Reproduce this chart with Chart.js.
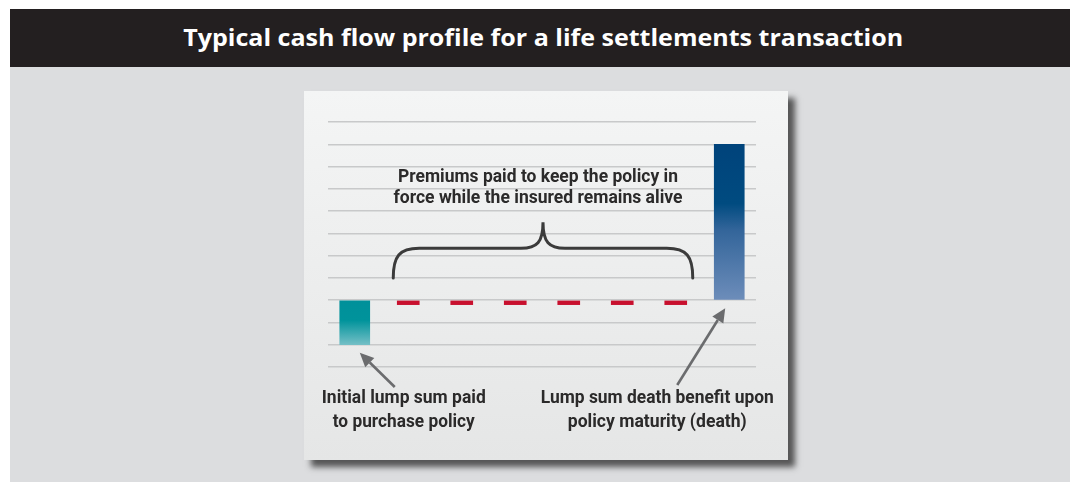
<!DOCTYPE html>
<html>
<head>
<meta charset="utf-8">
<script src="https://cdn.jsdelivr.net/npm/chart.js@4"></script>
<style>
  html, body { margin: 0; padding: 0; background: #ffffff; width: 1070px; height: 482px; overflow: hidden; }
  #titlebar { position: absolute; left: 10px; top: 9px; width: 1060px; height: 58px; background: #231f20; }
  #title { position: absolute; left: 0; top: 0; width: 1060px; height: 58px; line-height: 58px; text-align: center;
           color: #ffffff; font-family: "Open Sans", sans-serif; font-weight: 700; font-size: 24px; white-space: nowrap; }
  #title span { display: inline-block; transform-origin: center center; position: relative; left: 3px; top: -1px; }
  #panel { position: absolute; left: 10px; top: 67px; width: 1060px; height: 415px; background: #dcdddf; }
  #card { position: absolute; left: 304px; top: 91px; width: 484px; height: 369px;
          background: linear-gradient(#f4f5f5, #e5e6e6);
          box-shadow: 7px 7px 6px rgba(40,40,40,0.75); }
  #card canvas { position: absolute; left: 0; top: 0; }
</style>
</head>
<body>
<div id="titlebar"><div id="title"><span id="titleText">Typical cash flow profile for a life settlements transaction</span></div></div>
<div id="panel"></div>
<div id="card"><canvas id="chart" width="484" height="369"></canvas></div>
<script>
// ---- data ----
const categories = ['Purchase', 'Year 1', 'Year 2', 'Year 3', 'Year 4', 'Year 5', 'Year 6', 'Maturity'];
const lumpSums   = [-2, null, null, null, null, null, null, 7];
const premiums   = [null, -0.2, -0.2, -0.2, -0.2, -0.2, -0.2, null];
const yMin = -3, yMax = 8, yStep = 1;
const premiumLabel = ['Premiums paid to keep the policy in', 'force while the insured remains alive'];
const purchaseLabel = ['Initial lump sum paid', 'to purchase policy'];
const benefitLabel = ['Lump sum death benefit upon', 'policy maturity (death)'];

// fit title width
(function(){
  const s = document.getElementById('titleText');
  const w = s.getBoundingClientRect().width;
  const target = 720;
  s.style.transform = 'scaleX(' + (target / w) + ')';
})();

function lumpGradient(ctx) {
  const chart = ctx.chart;
  const area = chart.chartArea;
  const v = ctx.dataset.data[ctx.dataIndex];
  if (!area || v == null) return '#008f98';
  const ys = chart.scales.y;
  const p0 = ys.getPixelForValue(0), p1 = ys.getPixelForValue(v);
  const top = Math.min(p0, p1), bot = Math.max(p0, p1);
  const g = chart.ctx.createLinearGradient(0, top, 0, bot);
  if (v < 0) {
    g.addColorStop(0, '#00909a');
    g.addColorStop(0.45, '#00939b');
    g.addColorStop(1, '#74bfc6');
  } else {
    g.addColorStop(0, '#00437b');
    g.addColorStop(0.38, '#004b80');
    g.addColorStop(0.55, '#33659a');
    g.addColorStop(1, '#6d8dba');
  }
  return g;
}

function drawFitted(c, text, cx, cy, target) {
  const w = c.measureText(text).width;
  const sx = target ? target / w : 1;
  c.save();
  c.translate(cx, cy);
  c.scale(sx, 1);
  c.fillText(text, 0, 0);
  c.restore();
}

function arrow(c, x1, y1, x2, y2) {
  const ang = Math.atan2(y2 - y1, x2 - x1);
  const hl = 14, hw = 6.5;
  const bx = x2 - hl * Math.cos(ang), by = y2 - hl * Math.sin(ang);
  c.beginPath();
  c.moveTo(x1, y1);
  c.lineTo(bx, by);
  c.stroke();
  c.beginPath();
  c.moveTo(x2, y2);
  c.lineTo(bx + hw * Math.sin(ang), by - hw * Math.cos(ang));
  c.lineTo(bx - hw * Math.sin(ang), by + hw * Math.cos(ang));
  c.closePath();
  c.fill();
}

const annotations = {
  id: 'annotations',
  afterDatasetsDraw(chart) {
    const c = chart.ctx;
    const xs = chart.scales.x, ys = chart.scales.y;
    c.save();
    // brace
    const left = xs.getPixelForValue(1) - 15;
    const right = xs.getPixelForValue(6) + 17;
    const mid = (left + right) / 2;
    const yEnd = ys.getPixelForValue(1);
    const yBar = ys.getPixelForValue(2.33);
    const yTip = ys.getPixelForValue(3.5);
    c.strokeStyle = '#3b3b3b';
    c.lineWidth = 3;
    c.lineCap = 'round';
    c.beginPath();
    c.moveTo(left, yEnd);
    c.bezierCurveTo(left, yBar + 8, left + 6, yBar, left + 26, yBar);
    c.lineTo(mid - 22, yBar);
    c.bezierCurveTo(mid - 6, yBar, mid, yBar - 6, mid, yTip);
    c.bezierCurveTo(mid, yBar - 6, mid + 6, yBar, mid + 22, yBar);
    c.lineTo(right - 26, yBar);
    c.bezierCurveTo(right - 6, yBar, right, yBar + 8, right, yEnd);
    c.stroke();

    // arrows
    c.strokeStyle = '#6b6c6e';
    c.fillStyle = '#6b6c6e';
    c.lineWidth = 2.6;
    c.lineCap = 'butt';
    const yBottom = ys.getPixelForValue(yMin);
    const x0 = xs.getPixelForValue(0), x7 = xs.getPixelForValue(7);
    arrow(c, x0 + 40, yBottom + 20, x0 + 5, ys.getPixelForValue(-2) + 8);
    arrow(c, x7 - 52, yBottom + 18, x7 - 4, ys.getPixelForValue(0) + 8);

    // text
    c.fillStyle = '#2b2a2a';
    c.textAlign = 'center';
    c.textBaseline = 'middle';
    c.font = 'bold 19px Roboto, "DejaVu Sans", sans-serif';
    drawFitted(c, premiumLabel[0], mid - 5, ys.getPixelForValue(5.53), 280);
    drawFitted(c, premiumLabel[1], mid - 5, ys.getPixelForValue(4.58), 289);
    drawFitted(c, purchaseLabel[0], x0 + 49, yBottom + 31, 164);
    drawFitted(c, purchaseLabel[1], x0 + 49, yBottom + 55, 142);
    drawFitted(c, benefitLabel[0], x7 - 72, yBottom + 31, 233);
    drawFitted(c, benefitLabel[1], x7 - 72, yBottom + 55, 179);
    c.restore();
  }
};

new Chart(document.getElementById('chart'), {
  type: 'bar',
  data: {
    labels: categories,
    datasets: [
      {
        label: 'Lump sums',
        data: lumpSums,
        backgroundColor: lumpGradient,
        barThickness: 30,
        grouped: false,
        borderWidth: 0
      },
      {
        label: 'Premiums',
        data: premiums,
        backgroundColor: '#c8102e',
        barThickness: 22,
        grouped: false,
        borderWidth: 0
      }
    ]
  },
  options: {
    responsive: false,
    animation: false,
    layout: { padding: { left: 24, right: 32, top: 31, bottom: 93 } },
    plugins: { legend: { display: false }, tooltip: { enabled: false }, title: { display: false } },
    scales: {
      x: {
        display: false
      },
      y: {
        min: yMin, max: yMax,
        ticks: { display: false, stepSize: yStep },
        grid: { color: '#c8c9ca', lineWidth: 1.5, drawTicks: false },
        border: { display: false }
      }
    }
  },
  plugins: [annotations]
});
</script>
</body>
</html>
